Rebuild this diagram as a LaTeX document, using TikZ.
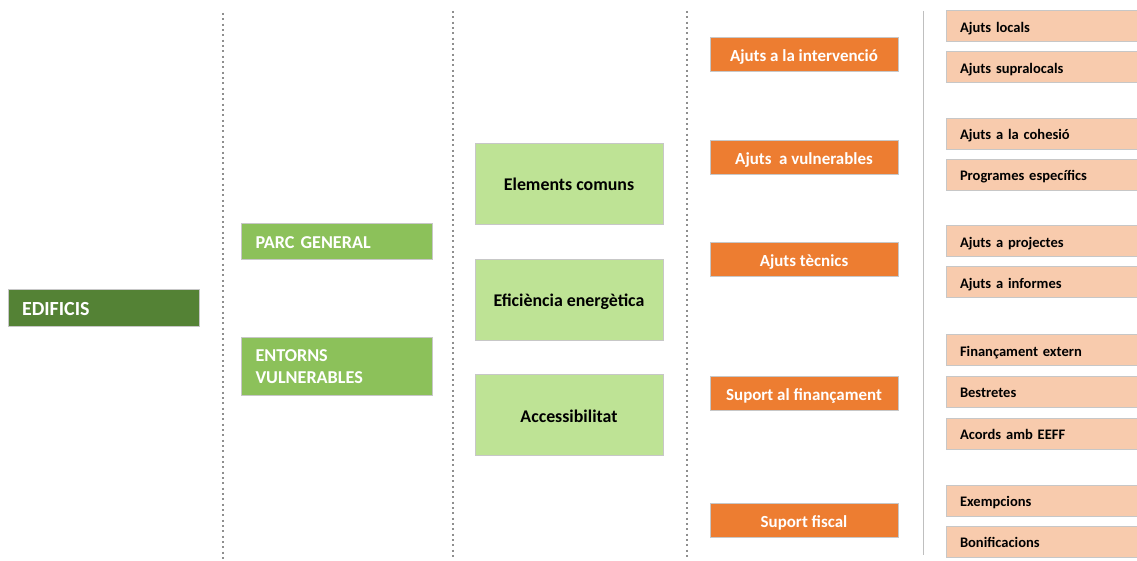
\documentclass[tikz,border=0pt]{standalone}
\usepackage{fontspec}
\setmainfont{Carlito}
\usetikzlibrary{positioning}
\newdimen\pxUnit
\pxUnit=0.75pt
\definecolor{darkgreen}{HTML}{548235}
\definecolor{midgreen}{HTML}{8CC15A}
\definecolor{lightgreen}{HTML}{BEE395}
\definecolor{orangefill}{HTML}{ED7D31}
\definecolor{peachfill}{HTML}{F8CBAD}
\definecolor{sepgray}{HTML}{8F8F8F}

\begin{document}
\begin{tikzpicture}[
    x=0.75pt, y=-0.75pt,
    box/.style={%
      draw=black!22,
      line width=0.6pt,
      rectangle,
      text depth=0pt,
    },
    rootbox/.style={%
      box, fill=darkgreen, text=white,
      minimum width=191\pxUnit, minimum height=37\pxUnit,
      inner xsep=14\pxUnit, text width=163\pxUnit, align=left,
      text height=12pt,
      font=\bfseries\fontsize{15}{18}\selectfont,
    },
    groupbox/.style={%
      box, fill=midgreen, text=white,
      minimum width=191\pxUnit,
      inner xsep=14\pxUnit, text width=163\pxUnit, align=left,
      text height=11.2pt,
      font=\bfseries\fontsize{13.6}{17}\selectfont,
    },
    areabox/.style={%
      box, fill=lightgreen, text=black,
      minimum width=188\pxUnit, minimum height=81\pxUnit,
      align=center,
      text height=11pt,
      font=\bfseries\fontsize{13.4}{16}\selectfont,
    },
    aidbox/.style={%
      box, fill=orangefill, text=white,
      minimum width=188\pxUnit, minimum height=34\pxUnit,
      align=center,
      text height=10.8pt,
      font=\bfseries\fontsize{12.7}{15}\selectfont,
    },
    itembox/.style={%
      box, fill=peachfill, text=black,
      minimum width=194\pxUnit, minimum height=31\pxUnit,
      inner xsep=14\pxUnit, text width=166\pxUnit, align=left,
      text height=9.6pt,
      font=\bfseries\fontsize{10.9}{13}\selectfont,
    },
    sepline/.style={%
      sepgray, line width=1.5pt, dash pattern=on 1.5pt off 2.5pt,
    },
  ]
    \useasboundingbox (0,0) rectangle (1137,560);

    % separators
    \draw [sepline] (223,13) -- (223,560);
    \draw [sepline] (453,11) -- (453,560);
    \draw [sepline] (687,11) -- (687,560);
    \draw [black!25, line width=0.75pt] (923,11) -- (923,555);

    % first columns
    \node [rootbox] (edif) at (103.5,307.5) {EDIFICIS};
    \node [groupbox, minimum height=36\pxUnit] (parc) at (337,241) {PARC GENERAL};
    \node [groupbox, minimum height=58\pxUnit, text height=9.6pt, text depth=17pt] (entorns) at (337,366) {ENTORNS\\VULNERABLES};

    \node [areabox] (comuns) at (569,183.5) {Elements comuns};
    \node [areabox] (eficiencia) at (569,299.5) {Efici\`encia energ\`etica};
    \node [areabox] (accessib) at (569,415) {Accessibilitat};

    % aid types
    \node [aidbox] (intervencio) at (804,54) {Ajuts a la intervenci\'o};
    \node [aidbox] (vulnerables) at (804,157.5) {Ajuts\ \ a vulnerables};
    \node [aidbox] (tecnics) at (804,259) {Ajuts t\`ecnics};
    \node [aidbox] (financament) at (804,393) {Suport al finan\c{c}ament};
    \node [aidbox] (fiscal) at (804,520) {Suport fiscal};

    % detail items
    \node [itembox] (locals) at (1043,26) {Ajuts locals};
    \node [itembox] (supralocals) at (1043,67) {Ajuts supralocals};
    \node [itembox] (cohesio) at (1043,133.5) {Ajuts a la cohesi\'o};
    \node [itembox] (programes) at (1043,174.5) {Programes espec\'ifics};
    \node [itembox] (projectes) at (1043,241) {Ajuts a projectes};
    \node [itembox] (informes) at (1043,282) {Ajuts a informes};
    \node [itembox] (extern) at (1043,350) {Finan\c{c}ament extern};
    \node [itembox] (bestretes) at (1043,391.5) {Bestretes};
    \node [itembox] (acords) at (1043,433.5) {Acords amb EEFF};
    \node [itembox] (exempcions) at (1043,500.5) {Exempcions};
    \node [itembox] (bonificacions) at (1043,541.5) {Bonificacions};
\end{tikzpicture}
\end{document}
